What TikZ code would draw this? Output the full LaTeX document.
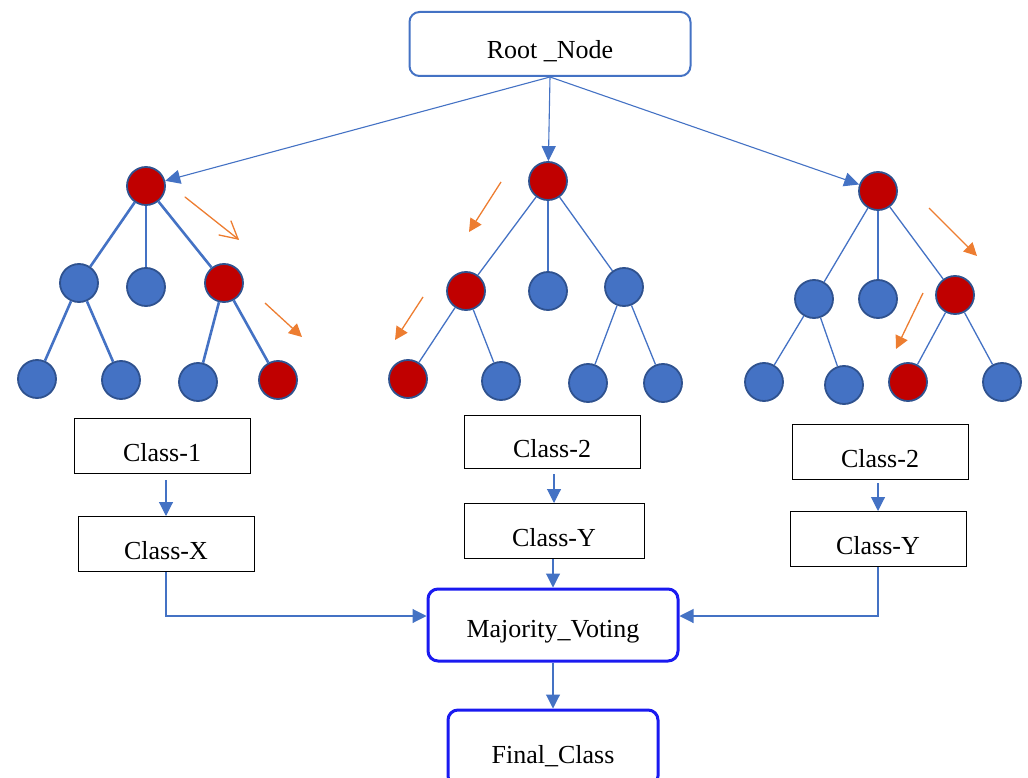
\documentclass[tikz,border=0pt]{standalone}
\usepackage{fontspec}
\setmainfont{Liberation Serif}
\usetikzlibrary{arrows.meta}
\definecolor{nblue}{HTML}{4472C4}
\definecolor{nborder}{HTML}{2F528F}
\definecolor{nred}{HTML}{C00000}
\definecolor{norange}{HTML}{ED7D31}
\definecolor{vblue}{HTML}{1A1AF0}
\tikzset{
  bnode/.style={circle,draw=nborder,fill=nblue,line width=1.8pt,minimum size=38pt,inner sep=0pt},
  rnode/.style={circle,draw=nborder,fill=nred,line width=1.8pt,minimum size=38pt,inner sep=0pt},
  thickedge/.style={draw=nblue,line width=2.6pt},
  thinedge/.style={draw=nblue,line width=1.3pt},
  rootarrow/.style={draw=nblue,line width=1.1pt,-{Triangle[length=15pt,width=14pt]}},
  flowarrow/.style={draw=nblue,line width=1.1pt,-{Triangle[length=14pt,width=14pt]}},
  orfilled/.style={draw=norange,line width=1.3pt,-{Triangle[length=13pt,width=13pt]}},
  orline/.style={draw=norange,line width=1.3pt,line cap=round,line join=miter},
  lowtext/.style={text height=32pt,text depth=2pt},
  classbox/.style={draw=black,line width=1pt,minimum width=176pt,minimum height=55pt,inner sep=0pt,lowtext,font=\fontsize{26}{30}\selectfont},
  roundbox/.style={rounded corners=10pt,minimum height=64pt,inner sep=0pt,lowtext,font=\fontsize{26}{30}\selectfont},
}
\begin{document}
\begin{tikzpicture}[x=1pt,y=-1pt]
\useasboundingbox (0,0) rectangle (1028,778);
% root
\node[roundbox,draw=nblue,line width=2pt,minimum width=281pt] (root) at (550,44) {Root \_Node};
% tree 1
\node[rnode] (a0) at (146,186) {};
\node[bnode] (a1) at (79,283) {};
\node[bnode] (a2) at (146,287) {};
\node[rnode] (a3) at (224,283) {};
\node[bnode] (a4) at (37,379) {};
\node[bnode] (a5) at (121,380) {};
\node[bnode] (a6) at (198,382) {};
\node[rnode] (a7) at (278,380) {};
\draw[thickedge] (a0) -- (a1);
\draw[thickedge] (a0) -- (a2);
\draw[thickedge] (a0) -- (a3);
\draw[thickedge] (a1) -- (a4);
\draw[thickedge] (a1) -- (a5);
\draw[thickedge] (a3) -- (a6);
\draw[thickedge] (a3) -- (a7);
% tree 2
\node[rnode] (b0) at (548,181) {};
\node[rnode] (b1) at (466,291) {};
\node[bnode] (b2) at (548,291) {};
\node[bnode] (b3) at (624,287) {};
\node[rnode] (b4) at (408,379) {};
\node[bnode] (b5) at (501,381) {};
\node[bnode] (b6) at (588,383) {};
\node[bnode] (b7) at (663,383) {};
\draw[thinedge] (b0) -- (b1);
\draw[thinedge] (b0) -- (b2);
\draw[thinedge] (b0) -- (b3);
\draw[thinedge] (b1) -- (b4);
\draw[thinedge] (b1) -- (b5);
\draw[thinedge] (b3) -- (b6);
\draw[thinedge] (b3) -- (b7);
% tree 3
\node[rnode] (c0) at (878,191) {};
\node[bnode] (c1) at (814,299) {};
\node[bnode] (c2) at (878,299) {};
\node[rnode] (c3) at (955,295) {};
\node[bnode] (c4) at (764,382) {};
\node[bnode] (c5) at (844,385) {};
\node[rnode] (c6) at (908,382) {};
\node[bnode] (c7) at (1002,382) {};
\draw[thinedge] (c0) -- (c1);
\draw[thinedge] (c0) -- (c2);
\draw[thinedge] (c0) -- (c3);
\draw[thinedge] (c1) -- (c4);
\draw[thinedge] (c1) -- (c5);
\draw[thinedge] (c3) -- (c6);
\draw[thinedge] (c3) -- (c7);
% root arrows
\draw[rootarrow] (root.south) -- (a0);
\draw[rootarrow] (root.south) -- (b0);
\draw[rootarrow] (root.south) -- (c0);
% orange path arrows
\coordinate (o1s) at (185,197); \coordinate (o1e) at (238,239);
\coordinate (o1l) at (219,235); \coordinate (o1u) at (231,221);
\coordinate (o2s) at (265,303); \coordinate (o2e) at (302,337);
\coordinate (o3s) at (501,182); \coordinate (o3e) at (469,232);
\coordinate (o4s) at (423,297); \coordinate (o4e) at (395,340);
\coordinate (o5s) at (929,208); \coordinate (o5e) at (977,256);
\coordinate (o6s) at (923,293); \coordinate (o6e) at (896,349);
\draw[orline] (o1s) -- (o1e);
\draw[orline] (o1l) -- (o1e) -- (o1u);
\draw[orfilled] (o2s) -- (o2e);
\draw[orfilled] (o3s) -- (o3e);
\draw[orfilled] (o4s) -- (o4e);
\draw[orfilled] (o5s) -- (o5e);
\draw[orfilled] (o6s) -- (o6e);
% class boxes
\node[classbox] (k1) at (162,446) {Class-1};
\node[classbox] (kx) at (166,544) {Class-X};
\node[classbox,minimum height=53pt] (k2) at (552,442) {Class-2};
\node[classbox,minimum width=180pt] (ky) at (554,531) {Class-Y};
\node[classbox] (k3) at (880,452) {Class-2};
\node[classbox] (kz) at (878,539) {Class-Y};
% majority and final
\node[roundbox,draw=vblue,line width=3pt,minimum width=250pt,minimum height=72pt,text height=26pt,text depth=2pt] (mv) at (553,625) {Majority\_Voting};
\node[roundbox,draw=vblue,line width=3pt,minimum width=210pt,minimum height=76pt] (fc) at (553,748) {Final\_Class};
% flow arrows
\draw[flowarrow] ([yshift=-6pt]k1.south -| kx.north) -- (kx.north);
\draw[flowarrow] ([yshift=-5pt]k2.south -| ky.north) -- (ky.north);
\draw[flowarrow] ([yshift=-3pt]k3.south -| kz.north) -- (kz.north);
\draw[flowarrow] (ky.south -| mv.north) -- (mv.north);
\draw[flowarrow] (kx.south) |- ([yshift=9pt]mv.west);
\draw[flowarrow] (kz.south) |- ([yshift=9pt]mv.east);
\draw[flowarrow] (mv.south) -- (fc.north);
\end{tikzpicture}
\end{document}
